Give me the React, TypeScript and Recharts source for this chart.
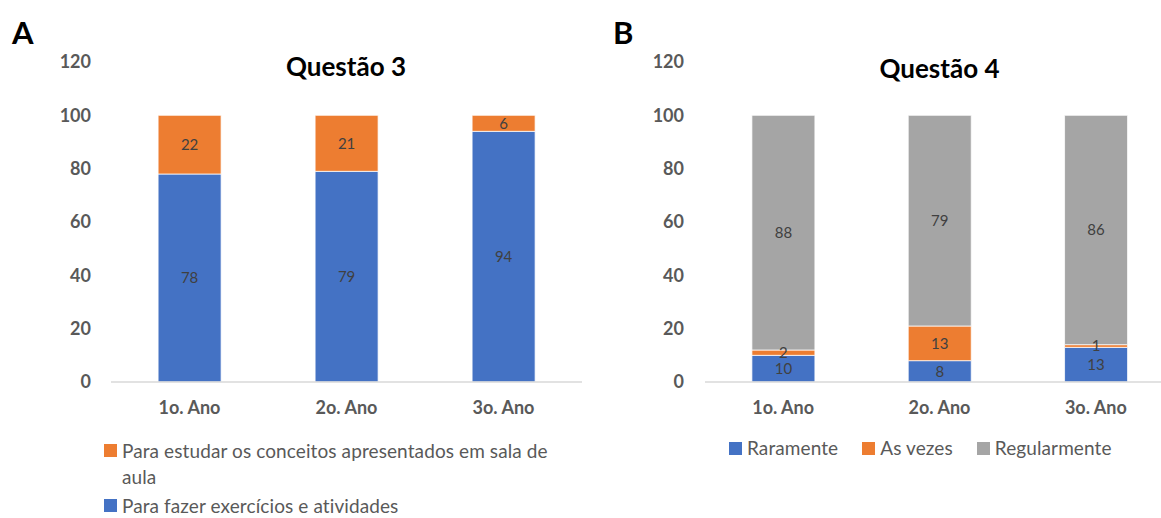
import React from "react";
import { Bar, BarChart, LabelList, XAxis, YAxis } from "recharts";

// categories and values
const categories = ["1o. Ano", "2o. Ano", "3o. Ano"];
const q3Exercicios = [78, 79, 94];
const q3Conceitos = [22, 21, 6];
const q4Raramente = [10, 8, 13];
const q4AsVezes = [2, 13, 1];
const q4Regularmente = [88, 79, 86];
const yTicks = [0, 20, 40, 60, 80, 100, 120];

const BLUE = "#4472C4";
const ORANGE = "#ED7D31";
const GRAY = "#A5A5A5";
const FONT = "Lato, 'Open Sans', sans-serif";

const q3Data = categories.map((name, i) => ({
  name,
  exercicios: q3Exercicios[i],
  conceitos: q3Conceitos[i],
}));

const q4Data = categories.map((name, i) => ({
  name,
  raramente: q4Raramente[i],
  asVezes: q4AsVezes[i],
  regularmente: q4Regularmente[i],
}));

const tickStyle = { fill: "#595959", fontSize: 18, fontWeight: 700, fontFamily: FONT };
const labelStyle = { fill: "#404040", fontSize: 15, fontFamily: FONT };

const Square = ({ color, top = 0 }: { color: string; top?: number }) => (
  <span
    style={{
      display: "inline-block",
      width: 13,
      height: 13,
      background: color,
      marginRight: 5,
      marginTop: top,
      flexShrink: 0,
    }}
  />
);

const App: React.FC = () => {
  return (
    <div
      style={{
        position: "absolute",
        left: 0,
        top: 0,
        width: 1161,
        height: 518,
        overflow: "hidden",
        background: "#fff",
        fontFamily: FONT,
      }}
    >
      {/* panel A */}
      <div style={{ position: "absolute", left: 12, top: 13, fontSize: 31, fontWeight: 700 }}>A</div>
      <div
        style={{
          position: "absolute",
          left: 110,
          width: 472,
          top: 50,
          textAlign: "center",
          fontSize: 26,
          fontWeight: 700,
          color: "#000",
        }}
      >
        Questão 3
      </div>
      <div style={{ position: "absolute", left: 0, top: 0 }}>
        <BarChart
          width={600}
          height={430}
          data={q3Data}
          margin={{ top: 62, right: 18, left: 0, bottom: 0 }}
          barCategoryGap="30%"
        >
          <XAxis
            dataKey="name"
            axisLine={{ stroke: "#D9D9D9", strokeWidth: 1.5 }}
            tickLine={false}
            tickSize={0}
            tickMargin={19}
            height={48}
            tick={tickStyle}
          />
          <YAxis
            domain={[0, 120]}
            ticks={yTicks}
            width={111}
            axisLine={false}
            tickLine={false}
            tickSize={0}
            tickMargin={20}
            tick={tickStyle}
          />
          <Bar dataKey="exercicios" stackId="a" fill={BLUE} stroke="#fff" strokeWidth={0.75} isAnimationActive={false}>
            <LabelList dataKey="exercicios" position="center" style={labelStyle} />
          </Bar>
          <Bar dataKey="conceitos" stackId="a" fill={ORANGE} stroke="#fff" strokeWidth={0.75} isAnimationActive={false}>
            <LabelList dataKey="conceitos" position="center" style={labelStyle} />
          </Bar>
        </BarChart>
      </div>
      <div
        style={{
          position: "absolute",
          left: 104,
          top: 438,
          fontSize: 19,
          letterSpacing: 0.1,
          color: "#595959",
        }}
      >
        <div style={{ display: "flex", alignItems: "flex-start", lineHeight: "26px" }}>
          <Square color={ORANGE} top={6} />
          <span style={{ width: 445 }}>Para estudar os conceitos apresentados em sala de aula</span>
        </div>
        <div style={{ display: "flex", alignItems: "flex-start", marginTop: 8, lineHeight: "16px" }}>
          <Square color={BLUE} top={1} />
          <span>Para fazer exercícios e atividades</span>
        </div>
      </div>

      {/* panel B */}
      <div style={{ position: "absolute", left: 613, top: 13, fontSize: 31, fontWeight: 700 }}>B</div>
      <div
        style={{
          position: "absolute",
          left: 705,
          width: 469,
          top: 52,
          textAlign: "center",
          fontSize: 26,
          fontWeight: 700,
          color: "#000",
        }}
      >
        Questão 4
      </div>
      <div style={{ position: "absolute", left: 600, top: 0 }}>
        <BarChart
          width={600}
          height={430}
          data={q4Data}
          margin={{ top: 62, right: 26, left: 0, bottom: 0 }}
          barCategoryGap="30%"
        >
          <XAxis
            dataKey="name"
            axisLine={{ stroke: "#D9D9D9", strokeWidth: 1.5 }}
            tickLine={false}
            tickSize={0}
            tickMargin={19}
            height={48}
            tick={tickStyle}
          />
          <YAxis
            domain={[0, 120]}
            ticks={yTicks}
            width={105}
            axisLine={false}
            tickLine={false}
            tickSize={0}
            tickMargin={21}
            tick={tickStyle}
          />
          <Bar dataKey="raramente" stackId="b" fill={BLUE} stroke="#fff" strokeWidth={0.75} isAnimationActive={false}>
            <LabelList dataKey="raramente" position="center" style={labelStyle} />
          </Bar>
          <Bar dataKey="asVezes" stackId="b" fill={ORANGE} stroke="#fff" strokeWidth={0.75} isAnimationActive={false}>
            <LabelList dataKey="asVezes" position="center" style={labelStyle} />
          </Bar>
          <Bar dataKey="regularmente" stackId="b" fill={GRAY} stroke="#fff" strokeWidth={0.75} isAnimationActive={false}>
            <LabelList dataKey="regularmente" position="center" style={labelStyle} />
          </Bar>
        </BarChart>
      </div>
      <div
        style={{
          position: "absolute",
          left: 729,
          top: 437,
          display: "flex",
          alignItems: "center",
          fontSize: 19,
          letterSpacing: 0.1,
          color: "#595959",
          lineHeight: "22px",
        }}
      >
        <Square color={BLUE} />
        <span style={{ marginRight: 24 }}>Raramente</span>
        <Square color={ORANGE} />
        <span style={{ marginRight: 24 }}>As vezes</span>
        <Square color={GRAY} />
        <span>Regularmente</span>
      </div>
    </div>
  );
};

export default App;
